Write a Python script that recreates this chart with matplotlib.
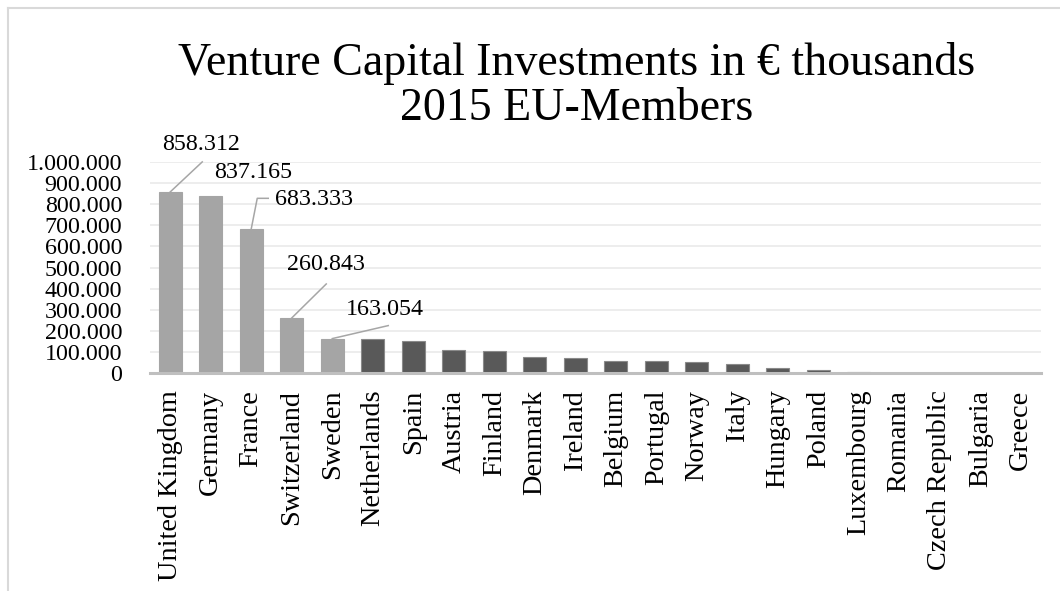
import matplotlib.pyplot as plt
from matplotlib.lines import Line2D

countries = ['United Kingdom', 'Germany', 'France', 'Switzerland', 'Sweden',
             'Netherlands', 'Spain', 'Austria', 'Finland', 'Denmark', 'Ireland',
             'Belgium', 'Portugal', 'Norway', 'Italy', 'Hungary', 'Poland',
             'Luxembourg', 'Romania', 'Czech Republic', 'Bulgaria', 'Greece']
investments = [858312, 837165, 683333, 260843, 163054,
               161000, 154000, 108000, 104000, 76000, 72000,
               59000, 56000, 53000, 45000, 23000, 16000,
               3000, 1200, 900, 600, 400]
n_highlight = 5  # top five drawn in light grey with value labels

y_ticks = list(range(0, 1000001, 100000))
y_tick_labels = ['{:,}'.format(v).replace(',', '.') for v in y_ticks]

plt.rcParams['font.family'] = ['Liberation Serif', 'DejaVu Serif']

fig = plt.figure(figsize=(10.6, 5.91), dpi=100)
ax = fig.add_axes([150 / 1060, 1 - 373 / 591, 891 / 1060, 211 / 591])

colors = ['#a5a5a5' if i < n_highlight else '#595959' for i in range(len(countries))]
edges = ['#a5a5a5' if i < n_highlight else '#8a8a8a' for i in range(len(countries))]
ax.bar(range(len(countries)), investments, width=0.56, color=colors,
       edgecolor=edges, linewidth=0.8, zorder=3)

ax.set_xlim(-0.5, len(countries) - 0.5)
ax.set_ylim(0, 1000000)
ax.set_yticks(y_ticks)
ax.set_yticklabels(y_tick_labels, fontsize=17.3)
ax.set_xticks(range(len(countries)))
ax.set_xticklabels(countries, rotation=90, fontsize=20.3)
ax.tick_params(axis='both', length=0)
ax.tick_params(axis='y', pad=20)
ax.tick_params(axis='x', pad=12)

ax.grid(axis='y', color='#ececec', linewidth=1.3, zorder=0)
for side in ['top', 'right', 'left']:
    ax.spines[side].set_visible(False)
ax.spines['bottom'].set_color('#bfbfbf')
ax.spines['bottom'].set_linewidth(2.2)
ax.spines['bottom'].set_zorder(4)


def px_offset(i, v, dx, dy):
    # shift a data point by dx, dy screen pixels, return data coords
    x0, y0 = ax.transData.transform((i, v))
    return ax.transData.inverted().transform((x0 + dx, y0 + dy))


# value labels: text offset and leader line points (pixels from bar top)
label_text_offsets = [(31, 47), (42, 24), (63, 29), (34, 53), (53, 29)]
leaders = [
    [(0, 0), (32, 30)],
    None,
    [(0, 0), (6, 30.5), (17, 30.5)],
    [(0, 0), (34.5, 34)],
    [(0, 0), (56, 13)],
]
for i in range(n_highlight):
    v = investments[i]
    tx, ty = px_offset(i, v, *label_text_offsets[i])
    ax.text(tx, ty, '{:,}'.format(v).replace(',', '.'), fontsize=17.3,
            ha='center', va='center', zorder=5)
    if leaders[i]:
        pts = [px_offset(i, v, dx, dy) for dx, dy in leaders[i]]
        ax.plot([p[0] for p in pts], [p[1] for p in pts], color='#a6a6a6',
                linewidth=1.1, zorder=5, clip_on=False)

fig.text(577 / 1060, 1 - 75 / 591, 'Venture Capital Investments in € thousands',
         fontsize=33, ha='center', va='baseline')
fig.text(577 / 1060, 1 - 120 / 591, '2015 EU-Members',
         fontsize=33, ha='center', va='baseline')

# chart frame (top and left edges visible)
fig.add_artist(Line2D([7.5 / 1060, 1], [1 - 7.5 / 591, 1 - 7.5 / 591],
                      color='#d9d9d9', linewidth=1.5))
fig.add_artist(Line2D([7.5 / 1060, 7.5 / 1060], [0, 1 - 7.5 / 591],
                      color='#d9d9d9', linewidth=1.5))

fig.savefig('out.png', dpi=100, facecolor='white')
